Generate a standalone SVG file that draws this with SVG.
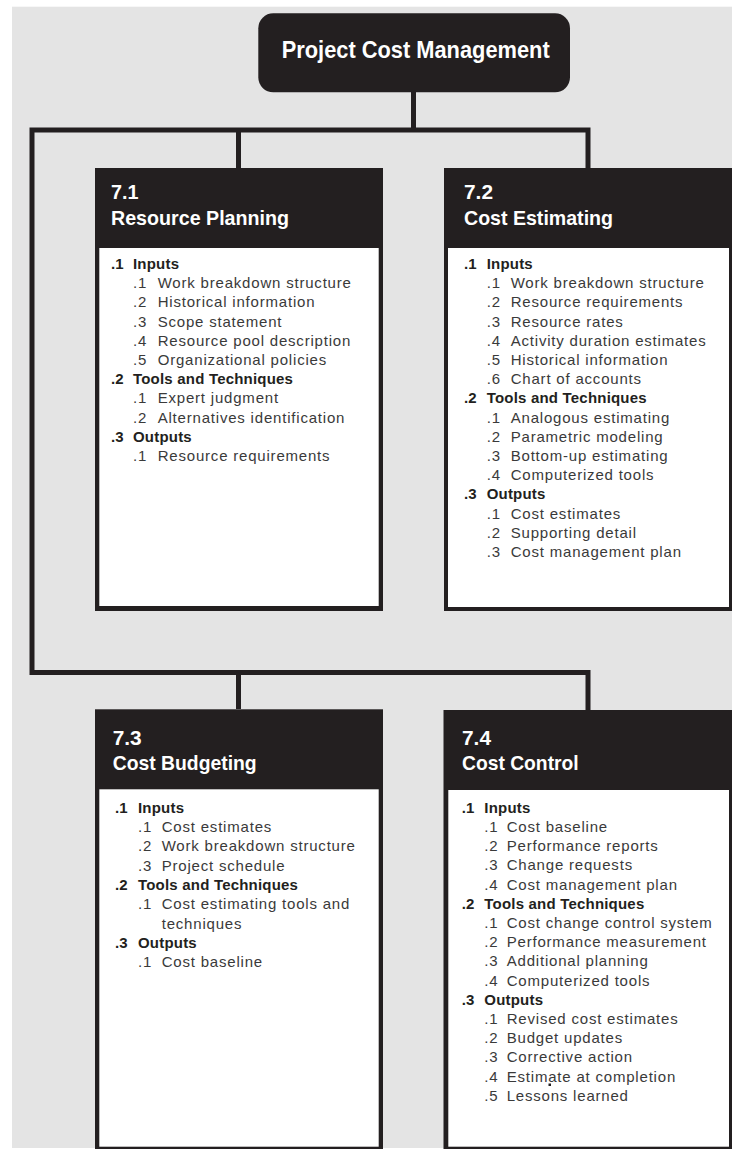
<svg xmlns="http://www.w3.org/2000/svg" width="732" height="1149" viewBox="0 0 732 1149">
  <style>
    .bg { fill: #e4e4e4; }
    .dark { fill: #231f20; }
    .panel { fill: #ffffff; }
    .wire { fill: none; stroke: #231f20; stroke-width: 5; stroke-linejoin: miter; }
    .title { font-family: "Liberation Sans", Arial, sans-serif; font-weight: bold; fill: #ffffff; }
    .t24 { font-size: 24px; }
    .t21 { font-size: 21px; }
    .h { font-family: "Liberation Sans", Arial, sans-serif; font-size: 15px; font-weight: bold; fill: #231f20; letter-spacing: 0.2px; }
    .i { font-family: "Liberation Sans", Arial, sans-serif; font-size: 15px; fill: #3a3a3a; letter-spacing: 0.8px; }
  </style>

  <rect x="0" y="0" width="732" height="1149" fill="#ffffff"/>
  <rect class="bg" x="12" y="6.7" width="720" height="1141.3"/>

  <!-- connectors -->
  <g id="connectors">
    <path class="wire" d="M413.5 92 V130"/>
    <path class="wire" d="M588 168 V130 H32 V672.5 H588 V710"/>
    <path class="wire" d="M238.5 130 V168"/>
    <path class="wire" d="M238.5 672.5 V709"/>
  </g>

  <!-- root -->
  <g id="root">
    <rect class="dark" x="258.3" y="13.3" width="311.7" height="79" rx="15" ry="15"/>
    <text class="title t24" x="281.7" y="58.3" textLength="268" lengthAdjust="spacingAndGlyphs">Project Cost Management</text>
  </g>

  <!-- 7.1 -->
  <g id="resource-planning">
    <rect class="dark" x="95" y="168" width="288" height="443"/>
    <rect class="panel" x="99.3" y="248" width="279.4" height="358"/>
    <text class="title t21" x="111" y="199.3" textLength="27.5" lengthAdjust="spacingAndGlyphs">7.1</text>
    <text class="title t21" x="111" y="225" textLength="178" lengthAdjust="spacingAndGlyphs">Resource Planning</text>
    <text class="h" x="111" y="269">.1</text><text class="h" x="133" y="269">Inputs</text>
    <text class="i" x="133" y="288.2">.1</text><text class="i" x="157.7" y="288.2">Work breakdown structure</text>
    <text class="i" x="133" y="307.4">.2</text><text class="i" x="157.7" y="307.4">Historical information</text>
    <text class="i" x="133" y="326.6">.3</text><text class="i" x="157.7" y="326.6">Scope statement</text>
    <text class="i" x="133" y="345.8">.4</text><text class="i" x="157.7" y="345.8">Resource pool description</text>
    <text class="i" x="133" y="365">.5</text><text class="i" x="157.7" y="365">Organizational policies</text>
    <text class="h" x="111" y="384.2">.2</text><text class="h" x="133" y="384.2">Tools and Techniques</text>
    <text class="i" x="133" y="403.4">.1</text><text class="i" x="157.7" y="403.4">Expert judgment</text>
    <text class="i" x="133" y="422.6">.2</text><text class="i" x="157.7" y="422.6">Alternatives identification</text>
    <text class="h" x="111" y="441.8">.3</text><text class="h" x="133" y="441.8">Outputs</text>
    <text class="i" x="133" y="461">.1</text><text class="i" x="157.7" y="461">Resource requirements</text>
  </g>

  <!-- 7.2 -->
  <g id="cost-estimating">
    <rect class="dark" x="444" y="168" width="290" height="443"/>
    <rect class="panel" x="448" y="248" width="281" height="359"/>
    <text class="title t21" x="464" y="199.3" textLength="29" lengthAdjust="spacingAndGlyphs">7.2</text>
    <text class="title t21" x="464" y="225" textLength="149" lengthAdjust="spacingAndGlyphs">Cost Estimating</text>
    <text class="h" x="464" y="269">.1</text><text class="h" x="486.7" y="269">Inputs</text>
    <text class="i" x="486.7" y="288.2">.1</text><text class="i" x="510.7" y="288.2">Work breakdown structure</text>
    <text class="i" x="486.7" y="307.4">.2</text><text class="i" x="510.7" y="307.4">Resource requirements</text>
    <text class="i" x="486.7" y="326.6">.3</text><text class="i" x="510.7" y="326.6">Resource rates</text>
    <text class="i" x="486.7" y="345.8">.4</text><text class="i" x="510.7" y="345.8">Activity duration estimates</text>
    <text class="i" x="486.7" y="365">.5</text><text class="i" x="510.7" y="365">Historical information</text>
    <text class="i" x="486.7" y="384.2">.6</text><text class="i" x="510.7" y="384.2">Chart of accounts</text>
    <text class="h" x="464" y="403.4">.2</text><text class="h" x="486.7" y="403.4">Tools and Techniques</text>
    <text class="i" x="486.7" y="422.6">.1</text><text class="i" x="510.7" y="422.6">Analogous estimating</text>
    <text class="i" x="486.7" y="441.8">.2</text><text class="i" x="510.7" y="441.8">Parametric modeling</text>
    <text class="i" x="486.7" y="461">.3</text><text class="i" x="510.7" y="461">Bottom-up estimating</text>
    <text class="i" x="486.7" y="480.2">.4</text><text class="i" x="510.7" y="480.2">Computerized tools</text>
    <text class="h" x="464" y="499.4">.3</text><text class="h" x="486.7" y="499.4">Outputs</text>
    <text class="i" x="486.7" y="518.6">.1</text><text class="i" x="510.7" y="518.6">Cost estimates</text>
    <text class="i" x="486.7" y="537.8">.2</text><text class="i" x="510.7" y="537.8">Supporting detail</text>
    <text class="i" x="486.7" y="557">.3</text><text class="i" x="510.7" y="557">Cost management plan</text>
  </g>

  <!-- 7.3 -->
  <g id="cost-budgeting">
    <rect class="dark" x="95" y="709.3" width="288" height="440"/>
    <rect class="panel" x="99.3" y="789.3" width="279.4" height="357.4"/>
    <text class="title t21" x="112.7" y="745" textLength="29" lengthAdjust="spacingAndGlyphs">7.3</text>
    <text class="title t21" x="112.7" y="770" textLength="144" lengthAdjust="spacingAndGlyphs">Cost Budgeting</text>
    <text class="h" x="115" y="812.7">.1</text><text class="h" x="138" y="812.7">Inputs</text>
    <text class="i" x="138" y="832">.1</text><text class="i" x="161.7" y="832">Cost estimates</text>
    <text class="i" x="138" y="851.3">.2</text><text class="i" x="161.7" y="851.3">Work breakdown structure</text>
    <text class="i" x="138" y="870.6">.3</text><text class="i" x="161.7" y="870.6">Project schedule</text>
    <text class="h" x="115" y="889.9">.2</text><text class="h" x="138" y="889.9">Tools and Techniques</text>
    <text class="i" x="138" y="909.2">.1</text><text class="i" x="161.7" y="909.2">Cost estimating tools and</text>
    <text class="i" x="161.7" y="928.5">techniques</text>
    <text class="h" x="115" y="947.8">.3</text><text class="h" x="138" y="947.8">Outputs</text>
    <text class="i" x="138" y="967.1">.1</text><text class="i" x="161.7" y="967.1">Cost baseline</text>
  </g>

  <!-- 7.4 -->
  <g id="cost-control">
    <rect class="dark" x="443.5" y="710" width="290" height="439.3"/>
    <rect class="panel" x="448.3" y="790" width="280.7" height="356.7"/>
    <text class="title t21" x="462" y="745" textLength="29" lengthAdjust="spacingAndGlyphs">7.4</text>
    <text class="title t21" x="462" y="770" textLength="116.7" lengthAdjust="spacingAndGlyphs">Cost Control</text>
    <text class="h" x="461.7" y="812.7">.1</text><text class="h" x="484.3" y="812.7">Inputs</text>
    <text class="i" x="484.3" y="831.9">.1</text><text class="i" x="506.7" y="831.9">Cost baseline</text>
    <text class="i" x="484.3" y="851.1">.2</text><text class="i" x="506.7" y="851.1">Performance reports</text>
    <text class="i" x="484.3" y="870.3">.3</text><text class="i" x="506.7" y="870.3">Change requests</text>
    <text class="i" x="484.3" y="889.5">.4</text><text class="i" x="506.7" y="889.5">Cost management plan</text>
    <text class="h" x="461.7" y="908.7">.2</text><text class="h" x="484.3" y="908.7">Tools and Techniques</text>
    <text class="i" x="484.3" y="927.9">.1</text><text class="i" x="506.7" y="927.9">Cost change control system</text>
    <text class="i" x="484.3" y="947.1">.2</text><text class="i" x="506.7" y="947.1">Performance measurement</text>
    <text class="i" x="484.3" y="966.3">.3</text><text class="i" x="506.7" y="966.3">Additional planning</text>
    <text class="i" x="484.3" y="985.5">.4</text><text class="i" x="506.7" y="985.5">Computerized tools</text>
    <text class="h" x="461.7" y="1004.7">.3</text><text class="h" x="484.3" y="1004.7">Outputs</text>
    <text class="i" x="484.3" y="1023.9">.1</text><text class="i" x="506.7" y="1023.9">Revised cost estimates</text>
    <text class="i" x="484.3" y="1043.1">.2</text><text class="i" x="506.7" y="1043.1">Budget updates</text>
    <text class="i" x="484.3" y="1062.3">.3</text><text class="i" x="506.7" y="1062.3">Corrective action</text>
    <text class="i" x="484.3" y="1081.5">.4</text><text class="i" x="506.7" y="1081.5">Estimate at completion</text>
    <rect class="dark" x="548.5" y="1083.5" width="2.5" height="2.5"/>
    <text class="i" x="484.3" y="1100.7">.5</text><text class="i" x="506.7" y="1100.7">Lessons learned</text>
  </g>
</svg>
